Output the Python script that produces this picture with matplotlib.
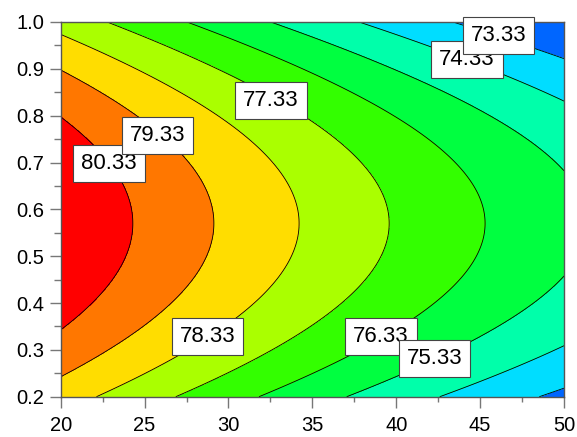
import numpy as np
import matplotlib.pyplot as plt

plt.rcParams['font.family'] = ['Liberation Sans', 'DejaVu Sans']

# response surface: value = peak + bx*(x-20) + bxx*(x-20)^2 + byy*(y-y0)^2
x_lim = [20, 50]
y_lim = [0.2, 1.0]
peak = 81.26
ridge_y = 0.57
bx = -0.2207
bxx = 0.00102
byy = -18.0

levels = [73.33, 74.33, 75.33, 76.33, 77.33, 78.33, 79.33, 80.33]
band_colors = ['#0066ff', '#00ddff', '#00ffaa', '#00ff40', '#33ff00',
               '#aaff00', '#ffdd00', '#ff7700', '#ff0000']

# where each level label sits
label_levels = [80.33, 79.33, 77.33, 74.33, 73.33, 78.33, 76.33, 75.33]
label_x = [22.87, 25.76, 32.52, 44.21, 46.09, 28.74, 39.10, 42.28]
label_y = [0.697, 0.758, 0.832, 0.920, 0.972, 0.328, 0.329, 0.282]

xs = np.linspace(x_lim[0], x_lim[1], 301)
ys = np.linspace(y_lim[0], y_lim[1], 301)
X, Y = np.meshgrid(xs, ys)
Z = peak + bx * (X - 20) + bxx * (X - 20) ** 2 + byy * (Y - ridge_y) ** 2

fig = plt.figure(figsize=(5.77, 4.37), dpi=100)
ax = fig.add_axes([0.1052, 0.0922, 0.8723, 0.8575])

bounds = [Z.min() - 1] + levels + [Z.max() + 1]
ax.contourf(X, Y, Z, levels=bounds, colors=band_colors)
ax.contour(X, Y, Z, levels=levels, colors='black', linewidths=0.6)

for lv, lx, ly in zip(label_levels, label_x, label_y):
    ax.text(lx, ly, '%.2f' % lv, fontsize=16, ha='center', va='center',
            bbox=dict(boxstyle='square,pad=0.36', fc='white', ec='#444444', lw=0.8),
            zorder=5)

ax.set_xlim(x_lim)
ax.set_ylim(y_lim)
ax.set_xticks([20, 25, 30, 35, 40, 45, 50])
ax.set_xticks(np.arange(22.5, 50, 5), minor=True)
ax.set_yticks(np.arange(0.2, 1.01, 0.1))
ax.set_yticks(np.arange(0.25, 1.0, 0.1), minor=True)
ax.yaxis.set_major_formatter(plt.FormatStrFormatter('%.1f'))
ax.tick_params(which='both', color='#777777', width=1, labelsize=14.5)
ax.tick_params(axis='x', which='major', length=8, pad=6)
ax.tick_params(axis='x', which='minor', length=3.6)
ax.tick_params(axis='y', which='major', length=8, pad=4)
ax.tick_params(axis='y', which='minor', length=5)
for s in ax.spines.values():
    s.set_color('#555555')
    s.set_linewidth(1)

fig.savefig('out.png', dpi=100)
